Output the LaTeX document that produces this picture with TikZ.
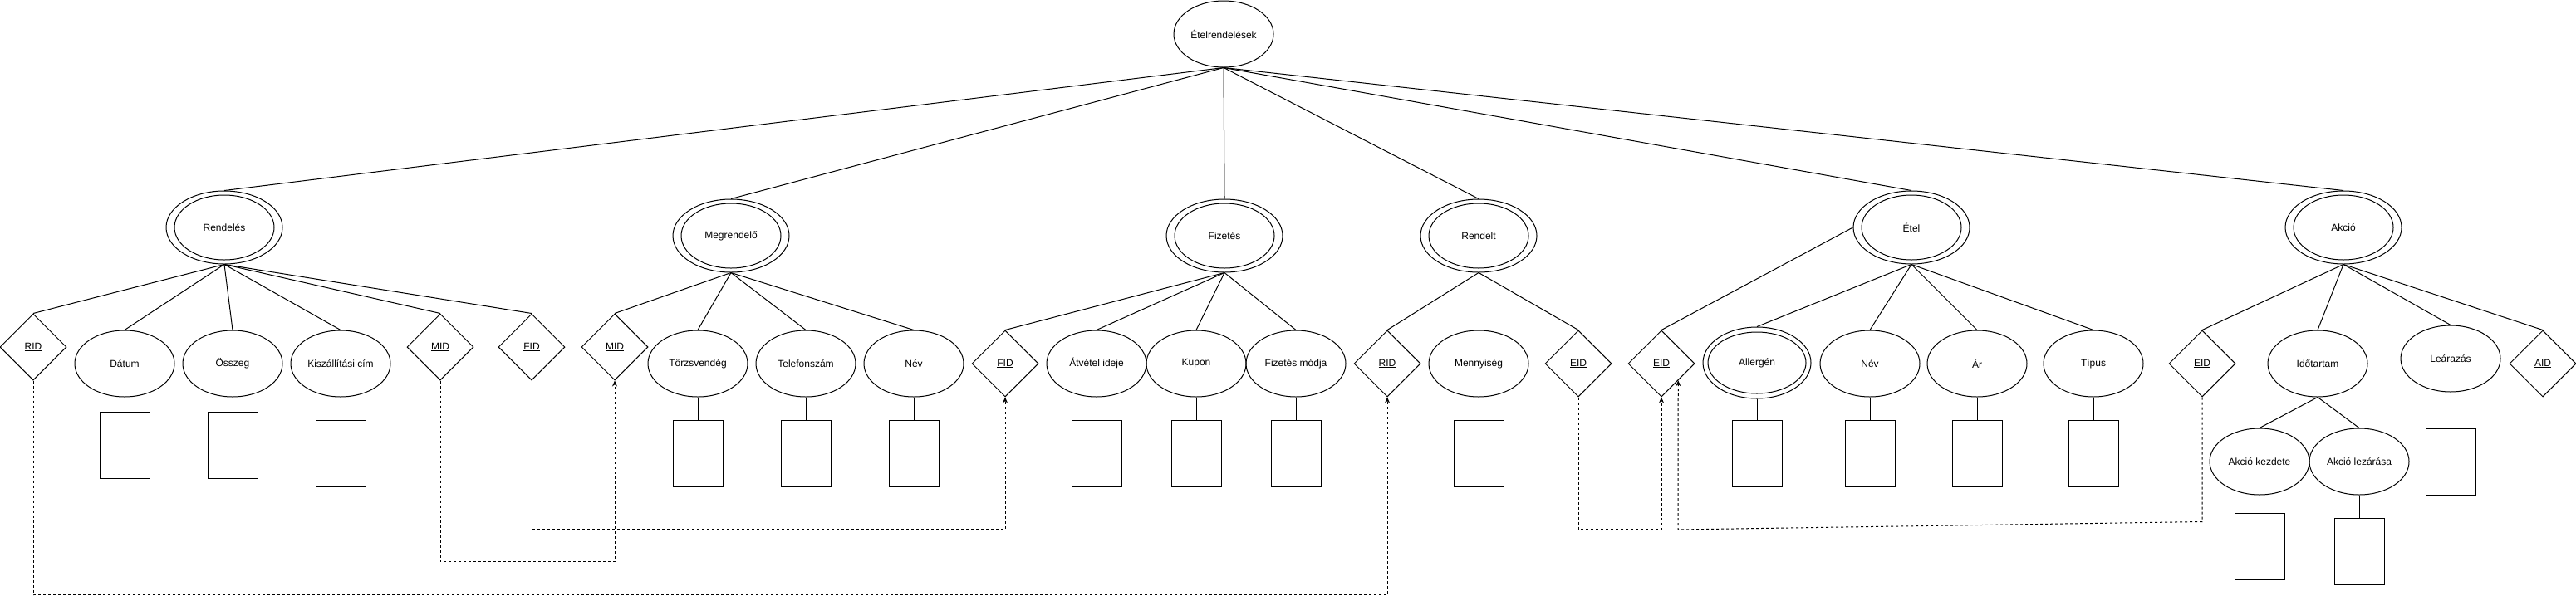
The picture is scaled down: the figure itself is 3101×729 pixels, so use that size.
\documentclass[tikz,border=0pt]{standalone}
\usepackage{fontspec}
\setmainfont{Liberation Sans}
\usetikzlibrary{shapes.geometric,arrows.meta,calc}

\begin{document}
\begin{tikzpicture}[x=1pt, y=-1pt, line width=1pt,
    font=\fontsize{12pt}{14pt}\selectfont,
    attr/.style={draw, ellipse, inner sep=0pt, minimum width=120pt, minimum height=80pt},
    entity/.style={draw, ellipse, inner sep=0pt, minimum width=140pt, minimum height=88pt},
    keyattr/.style={draw, diamond, inner sep=0pt, minimum width=80pt, minimum height=80pt},
    domainbox/.style={draw, rectangle, inner sep=0pt, minimum width=60pt, minimum height=80pt},
    fk/.style={dash pattern=on 3pt off 3pt, -{Stealth[length=7pt,width=6pt]}}]
  % Canvas
  \fill[white] (0,0) rectangle (3101,729);
  \useasboundingbox (0,0) rectangle (3101,729);
  % Root
  \node[attr] (root) at (1473,41) {Ételrendelések};
  % Entities
  \node[entity] (rendeles) at (270,274) {Rendelés};
  \node[entity] (megrendelo) at (880,284) {Megrendelő};
  \node[entity] (fizetes) at (1474,284) {Fizetés};
  \node[entity] (rendelt) at (1780,284) {Rendelt};
  \node[entity] (etel) at (2301,274) {Étel};
  \node[entity] (akcio) at (2821,274) {Akció};
  \foreach \e in {rendeles,megrendelo,fizetes,rendelt,etel,akcio} {
    \draw (\e.center) ellipse [x radius=60pt, y radius=39pt];
    \draw (root.south) -- (\e.north);
  }
  % Keys
  \node[keyattr] (rid) at (40,418) {\underline{RID}};
  \node[keyattr] (mid) at (530,418) {\underline{MID}};
  \node[keyattr] (fid) at (640,418) {\underline{FID}};
  \node[keyattr] (mid2) at (740,418) {\underline{MID}};
  \node[keyattr] (fid2) at (1210,438) {\underline{FID}};
  \node[keyattr] (rid2) at (1670,438) {\underline{RID}};
  \node[keyattr] (eid) at (1900,438) {\underline{EID}};
  \node[keyattr] (eid2) at (2000,438) {\underline{EID}};
  \node[keyattr] (eid3) at (2651,438) {\underline{EID}};
  \node[keyattr] (aid) at (3061,438) {\underline{AID}};
  % Attributes
  \node[attr] (datum) at (150,438) {Dátum};
  \node[attr] (osszeg) at (280,438) {Összeg};
  \node[attr] (cim) at (410,438) {Kiszállítási cím};
  \node[attr] (torzs) at (840,438) {Törzsvendég};
  \node[attr] (telefon) at (970,438) {Telefonszám};
  \node[attr] (nev) at (1100,438) {Név};
  \node[attr] (atvetel) at (1320,438) {Átvétel ideje};
  \node[attr] (kupon) at (1440,438) {Kupon};
  \node[attr] (modja) at (1560,438) {Fizetés módja};
  \node[attr] (menny) at (1780,438) {Mennyiség};
  \node[attr, minimum width=130pt, minimum height=86pt] (allergen) at (2115,437) {Allergén};
  \draw (allergen.center) ellipse [x radius=59pt, y radius=37pt];
  \node[attr] (nev2) at (2251,438) {Név};
  \node[attr] (ar) at (2380,438) {Ár};
  \node[attr] (tipus) at (2520,438) {Típus};
  \node[attr] (ido) at (2790,438) {Időtartam};
  \node[attr] (learazas) at (2950,432) {Leárazás};
  \node[attr] (kezdete) at (2720,556) {Akció kezdete};
  \node[attr] (lezarasa) at (2840,556) {Akció lezárása};
  % Links to entities
  \foreach \c in {rid,datum,osszeg,cim,mid,fid}
    \draw (rendeles.south) -- (\c.north);
  \foreach \c in {mid2,torzs,telefon,nev}
    \draw (megrendelo.south) -- (\c.north);
  \foreach \c in {fid2,atvetel,kupon,modja}
    \draw (fizetes.south) -- (\c.north);
  \foreach \c in {rid2,menny,eid}
    \draw (rendelt.south) -- (\c.north);
  \draw (etel.west) -- (eid2.north);
  \foreach \c in {allergen,nev2,ar,tipus}
    \draw (etel.south) -- (\c.north);
  \foreach \c in {eid3,ido,learazas,aid}
    \draw (akcio.south) -- (\c.north);
  \draw (ido.south) -- (kezdete.north);
  \draw (ido.south) -- (lezarasa.north);
  % Domain boxes
  \foreach \att/\x/\y in {datum/150/536, osszeg/280/536, cim/410/546,
      torzs/840/546, telefon/970/546, nev/1100/546,
      atvetel/1320/546, kupon/1440/546, modja/1560/546, menny/1780/546,
      allergen/2115/546, nev2/2251/546, ar/2380/546, tipus/2520/546,
      learazas/2950/556, kezdete/2720/658, lezarasa/2840/664} {
    \node[domainbox] (\att-box) at (\x,\y) {};
    \draw (\att.south) -- (\att-box.north);
  }
  % Foreign keys
  \draw[fk] (rid.south) -- ++(0,258) -| (rid2.south);
  \draw[fk] (mid.south) -- ++(0,218) -| (mid2.south);
  \draw[fk] (fid.south) -- ++(0,179) -| (fid2.south);
  \draw[fk] (eid.south) -- ++(0,159) -| (eid2.south);
  \coordinate (eidhit) at ($(eid2.east)!0.5!(eid2.south)$);
  \coordinate (eidbend) at (2020,638);
  \draw[fk] (eid3.south) -- ++(0,150) -- (eidbend) -- (eidhit);
\end{tikzpicture}
\end{document}
